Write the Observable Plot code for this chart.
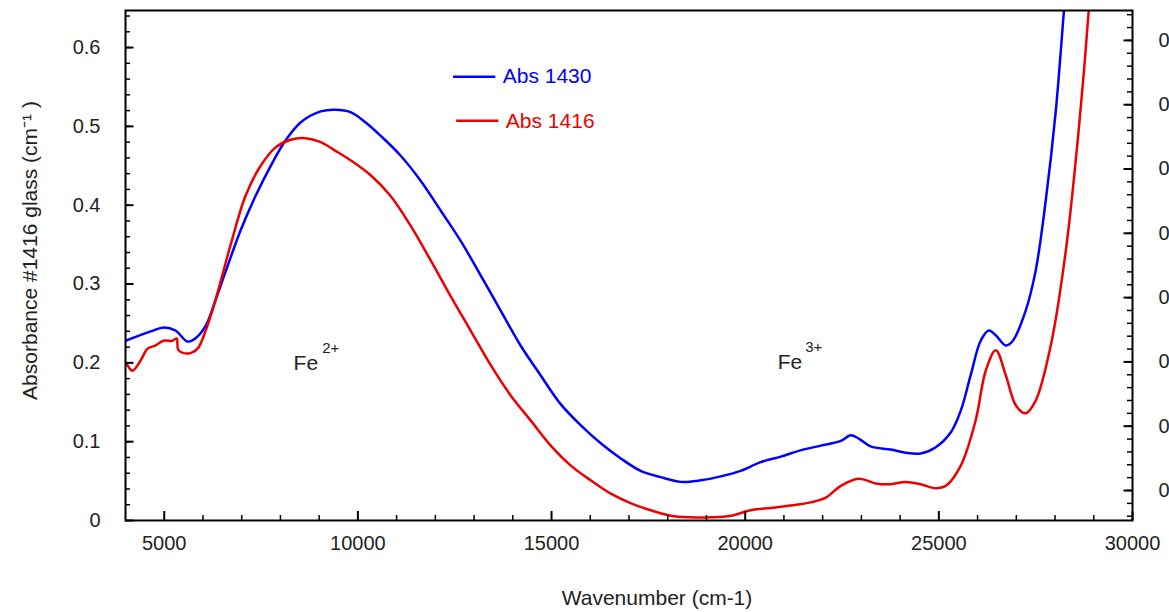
<!DOCTYPE html>
<html>
<head>
<meta charset="utf-8">
<script src="https://cdn.jsdelivr.net/npm/d3@7"></script>
<script src="https://cdn.jsdelivr.net/npm/@observablehq/plot@0.6"></script>
<style>
  html, body { margin: 0; padding: 0; background: #fff; }
  #chart svg { display: block; }
</style>
</head>
<body>
<div id="chart"></div>
<script>
// Abs 1430 (blue): wavenumber (cm-1) and absorbance
const wn1430 = [4000, 4650, 5000, 5290, 5600, 5800, 6070, 6320, 6580, 6970, 7360, 7750, 8130, 8520, 9040, 9420, 9810, 10200, 10590, 11100, 11620, 12140, 12650, 13170, 13690, 14200, 14720, 15230, 15750, 16270, 16780, 17300, 17820, 18330, 18850, 19370, 19880, 20400, 20920, 21430, 21950, 22470, 22720, 22930, 23240, 23760, 24140, 24530, 24920, 25310, 25570, 25820, 26080, 26290, 26470, 26730, 26910, 27240, 27500, 27760, 28020, 28230, 28400];
const abs1430 = [0.228, 0.240, 0.245, 0.241, 0.227, 0.231, 0.247, 0.279, 0.315, 0.368, 0.412, 0.450, 0.482, 0.505, 0.519, 0.521, 0.518, 0.505, 0.488, 0.463, 0.431, 0.393, 0.355, 0.311, 0.266, 0.222, 0.184, 0.148, 0.121, 0.098, 0.079, 0.063, 0.055, 0.049, 0.051, 0.056, 0.063, 0.074, 0.081, 0.089, 0.095, 0.101, 0.108, 0.104, 0.094, 0.090, 0.086, 0.085, 0.093, 0.112, 0.140, 0.184, 0.228, 0.241, 0.235, 0.222, 0.228, 0.266, 0.317, 0.406, 0.520, 0.647, 0.75];

// Abs 1416 (red)
const wn1416 = [4000, 4050, 4180, 4390, 4570, 4770, 4980, 5210, 5320, 5370, 5630, 5860, 6070, 6320, 6710, 7100, 7490, 7870, 8260, 8650, 9040, 9420, 9810, 10330, 10840, 11360, 11880, 12390, 12910, 13430, 13940, 14460, 14980, 15490, 16010, 16530, 17040, 17560, 18080, 18590, 19110, 19630, 20140, 20660, 21170, 21690, 22080, 22470, 22930, 23370, 23760, 24140, 24530, 24920, 25180, 25570, 25950, 26210, 26470, 26730, 26990, 27240, 27500, 27890, 28280, 28610, 28870, 29000];
const abs1416 = [0.200, 0.197, 0.190, 0.203, 0.218, 0.222, 0.228, 0.228, 0.231, 0.216, 0.212, 0.218, 0.241, 0.279, 0.349, 0.412, 0.450, 0.473, 0.483, 0.485, 0.480, 0.469, 0.457, 0.438, 0.412, 0.374, 0.330, 0.285, 0.241, 0.197, 0.159, 0.127, 0.095, 0.070, 0.051, 0.034, 0.022, 0.013, 0.006, 0.004, 0.004, 0.006, 0.013, 0.016, 0.019, 0.023, 0.029, 0.044, 0.053, 0.047, 0.046, 0.049, 0.046, 0.041, 0.044, 0.070, 0.127, 0.190, 0.216, 0.184, 0.146, 0.136, 0.152, 0.222, 0.343, 0.495, 0.647, 0.75];

const xTicks = [5000, 10000, 15000, 20000, 25000, 30000];
const xMinor = d3.range(5000, 30000, 1000).filter(v => v % 5000 !== 0);
const yTicks = [0, 0.1, 0.2, 0.3, 0.4, 0.5, 0.6];
const yMinor = d3.range(0.02, 0.641, 0.02);
// right-hand axis (its own scale; labels are cut off by the figure edge)
const rightTicks = [0.1, 0.2, 0.3, 0.4, 0.5, 0.6, 0.7, 0.8];
const rightMinor = d3.range(0.06, 0.8401, 0.02);
const rightToLeft = v => 0.03806 + (v - 0.1) * 0.8157;

const seriesNames = ["Abs 1430", "Abs 1416"];
const seriesColors = ["#0000ff", "#ee0000"];

const rows = [
  ...wn1430.map((w, i) => ({wn: w, a: abs1430[i], s: seriesNames[0]})),
  ...wn1416.map((w, i) => ({wn: w, a: abs1416[i], s: seriesNames[1]}))
];

const font = "Liberation Sans, Arial, Helvetica, sans-serif";
const ink = "#222";

const chart = Plot.plot({
  width: 1169,
  height: 612,
  marginLeft: 125,
  marginRight: 37,
  marginTop: 10,
  marginBottom: 92,
  style: {fontFamily: font, fontSize: "20px", color: ink, background: "#fff", overflow: "hidden"},
  x: {domain: [4000, 30000]},
  y: {domain: [0, 0.647]},
  color: {domain: seriesNames, range: seriesColors},
  marks: [
    Plot.line(rows, {x: "wn", y: "a", z: "s", stroke: "s", strokeWidth: 2.5, curve: "catmull-rom", clip: true}),
    // inward ticks: bottom
    Plot.ruleX(xMinor, {x: d => d, y1: 0, y2: 0.0063, stroke: "#000", strokeWidth: 1.5}),
    Plot.ruleX(xTicks, {x: d => d, y1: 0, y2: 0.0114, stroke: "#000", strokeWidth: 2}),
    // inward ticks: left
    Plot.ruleY(yMinor, {y: d => d, x1: 4000, x2: 4130, stroke: "#000", strokeWidth: 1.5}),
    Plot.ruleY(yTicks, {y: d => d, x1: 4000, x2: 4220, stroke: "#000", strokeWidth: 2}),
    // inward ticks: right
    Plot.ruleY(rightMinor, {y: d => rightToLeft(d), x1: 29870, x2: 30000, stroke: "#000", strokeWidth: 1.5}),
    Plot.ruleY(rightTicks, {y: d => rightToLeft(d), x1: 29780, x2: 30000, stroke: "#000", strokeWidth: 2}),
    Plot.frame({stroke: "#000", strokeWidth: 2}),
    Plot.axisX(xTicks, {tickSize: 0, tickPadding: 15, fontSize: 20, label: null, tickFormat: d3.format("d")}),
    Plot.axisY(yTicks, {tickSize: 0, tickPadding: 25, fontSize: 20, label: null, tickFormat: d => d === 0 ? "0" : d3.format(".1f")(d)}),
    Plot.axisY(rightTicks.map(rightToLeft), {anchor: "right", tickSize: 0, tickPadding: 26, fontSize: 20, label: null,
      tickFormat: (d, i) => d3.format(".1f")(rightTicks[i])}),
    // axis titles
    Plot.text(["Wavenumber (cm-1)"], {frameAnchor: "bottom", dx: 28, dy: 84, fontSize: 21, fill: ink, text: d => d}),
    Plot.text(["Absorbance #1416 glass (cm⁻¹ )"], {frameAnchor: "left", textAnchor: "middle", dx: -95, dy: -15, rotate: -90, fontSize: 21, fill: ink, text: d => d}),
    // legend
    Plot.ruleY([0.563], {x1: 12470, x2: 13560, y: d => d, stroke: seriesColors[0], strokeWidth: 2.5}),
    Plot.text([seriesNames[0]], {x: 13740, y: 0.563, textAnchor: "start", fill: seriesColors[0], fontSize: 21, text: d => d}),
    Plot.ruleY([0.507], {x1: 12550, x2: 13640, y: d => d, stroke: seriesColors[1], strokeWidth: 2.5}),
    Plot.text([seriesNames[1]], {x: 13820, y: 0.507, textAnchor: "start", fill: seriesColors[1], fontSize: 21, text: d => d}),
    // annotations
    Plot.text(["Fe"], {x: 8340, y: 0.200, textAnchor: "start", fontSize: 21, fill: ink, text: d => d}),
    Plot.text(["2+"], {x: 9080, y: 0.218, textAnchor: "start", fontSize: 15, fill: ink, text: d => d}),
    Plot.text(["Fe"], {x: 20840, y: 0.201, textAnchor: "start", fontSize: 21, fill: ink, text: d => d}),
    Plot.text(["3+"], {x: 21550, y: 0.220, textAnchor: "start", fontSize: 15, fill: ink, text: d => d})
  ]
});
document.getElementById("chart").appendChild(chart);
</script>
</body>
</html>
